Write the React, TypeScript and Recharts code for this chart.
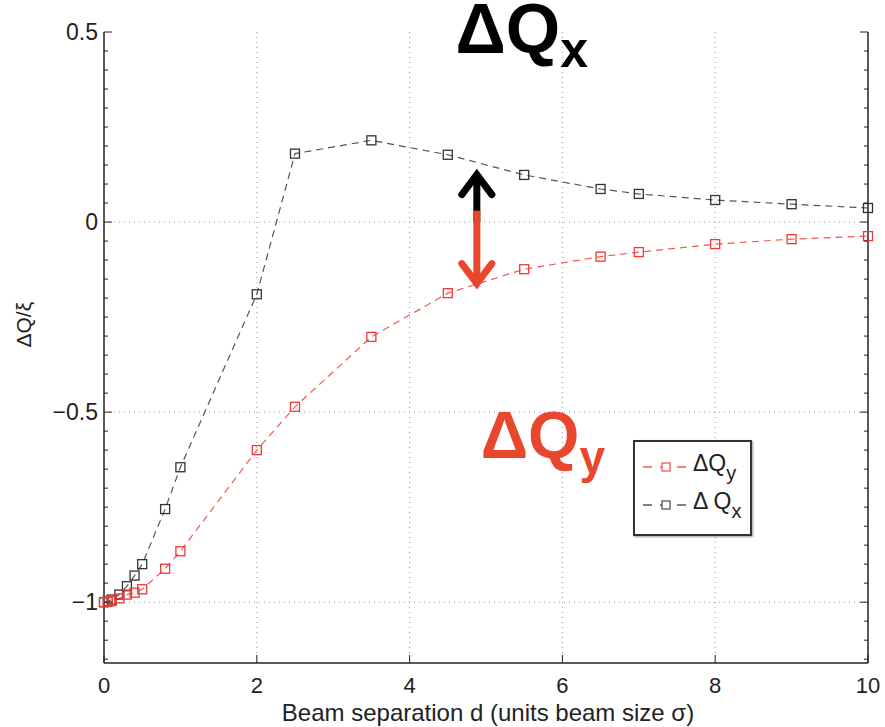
import { LineChart, Line, XAxis, YAxis, ReferenceLine, ReferenceDot } from "recharts";

const separation = [0, 0.05, 0.1, 0.2, 0.3, 0.4, 0.5, 0.8, 1, 2, 2.5, 3.5, 4.5, 5.5, 6.5, 7, 8, 9, 10];
const dQx = [-1, -0.998, -0.993, -0.98, -0.958, -0.93, -0.9, -0.755, -0.645, -0.19, 0.18, 0.215, 0.177, 0.124, 0.087, 0.074, 0.058, 0.047, 0.037];
const dQy = [-1, -0.999, -0.997, -0.99, -0.98, -0.975, -0.966, -0.912, -0.866, -0.6, -0.486, -0.302, -0.187, -0.124, -0.091, -0.079, -0.058, -0.045, -0.037];

const xTicks = [0, 2, 4, 6, 8, 10];
const yMajor = [-1, -0.5, 0, 0.5];
const yMinor = [-1.15, -1.1, -1.05, -1, -0.95, -0.9, -0.85, -0.8, -0.75, -0.7, -0.65, -0.6, -0.55, -0.5,
  -0.45, -0.4, -0.35, -0.3, -0.25, -0.2, -0.15, -0.1, -0.05, 0, 0.05, 0.1, 0.15, 0.2, 0.25, 0.3, 0.35, 0.4, 0.45, 0.5];

const RED = "#ef5a55";
const GREY = "#555555";
const ARROW_RED = "#e8472d";
const FONT = "'Liberation Sans', Arial, Helvetica, sans-serif";

const data = separation.map((d, i) => ({ d, qx: dQx[i], qy: dQy[i] }));

const legendRows = [
  { color: RED, main: "ΔQ", sub: "y" },
  { color: GREY, main: "Δ Q", sub: "x" },
];

function Square(props: any) {
  const { cx, cy, stroke } = props;
  if (cx == null || cy == null) return null;
  return <rect x={cx - 4.5} y={cy - 4.5} width={9} height={9} fill="none" stroke={stroke} strokeWidth={1.3} />;
}

function YTick(props: any) {
  const { x, y, payload, side } = props;
  const major = yMajor.includes(payload.value);
  const len = major ? 8 : 4;
  if (side === "right") {
    return <line x1={x - 8} x2={x - 8 - len} y1={y} y2={y} stroke="#222" strokeWidth={1} />;
  }
  const label = payload.value === 0.5 ? "0.5" : payload.value === -0.5 ? "−0.5" : payload.value === -1 ? "−1" : "0";
  return (
    <g>
      <line x1={x + 8} x2={x + 8 + len} y1={y} y2={y} stroke="#222" strokeWidth={1} />
      {major && (
        <text x={x + 2} y={y} dy={8} textAnchor="end" fontSize={23} fill="#222" fontFamily={FONT}>
          {label}
        </text>
      )}
    </g>
  );
}

function XTick(props: any) {
  const { x, y, payload, side } = props;
  if (side === "top") {
    return <line x1={x} x2={x} y1={y + 8} y2={y + 16} stroke="#222" strokeWidth={1} />;
  }
  return (
    <g>
      <line x1={x} x2={x} y1={y - 8} y2={y - 16} stroke="#222" strokeWidth={1} />
      <text x={x} y={y + 22} textAnchor="middle" fontSize={22} fill="#222" fontFamily={FONT}>
        {payload.value}
      </text>
    </g>
  );
}

function Arrow(color: string) {
  return (props: any) => {
    const { x1, y1, x2, y2 } = props;
    if (x1 == null) return null;
    const dir = y2 < y1 ? -1 : 1;
    return (
      <g>
        <line x1={x1} y1={y1} x2={x2} y2={y2 - dir * 3} stroke={color} strokeWidth={7} />
        <polyline
          points={`${x2 - 15},${y2 - dir * 20} ${x2},${y2} ${x2 + 15},${y2 - dir * 20}`}
          fill="none"
          stroke={color}
          strokeWidth={7}
          strokeLinecap="round"
          strokeLinejoin="miter"
        />
      </g>
    );
  };
}

function BigLabel(color: string, sub: string, size: number, subSize: number, subDy: number) {
  return (props: any) => {
    const { cx, cy } = props;
    if (cx == null) return null;
    return (
      <text x={cx} y={cy} fill={color} fontFamily={FONT} fontWeight="bold" fontSize={size}>
        ΔQ
        <tspan fontSize={subSize} dy={subDy}>{sub}</tspan>
      </text>
    );
  };
}

function LegendBox() {
  return (
    <div
      style={{
        position: "absolute",
        left: 633,
        top: 440,
        width: 115,
        height: 92,
        border: "2.5px solid #333",
        background: "#fff",
        boxShadow: "1px 1px 2px rgba(0,0,0,0.4)",
        fontFamily: FONT,
        color: "#222",
        boxSizing: "content-box",
      }}
    >
      {legendRows.map((r, i) => (
        <div key={i} style={{ display: "flex", alignItems: "center", height: 38, marginTop: i === 0 ? 6 : 0 }}>
          <svg width={54} height={20} style={{ marginLeft: 4 }}>
            <line x1={4} x2={50} y1={10} y2={10} stroke={r.color} strokeWidth={1.5} strokeDasharray="9 8" />
            <rect x={23} y={6} width={8} height={8} fill="#fff" stroke={r.color} strokeWidth={1.3} />
          </svg>
          <span style={{ fontSize: 23, lineHeight: 1 }}>
            {r.main}
            <sub style={{ fontSize: 20, verticalAlign: -9 }}>{r.sub}</sub>
          </span>
        </div>
      ))}
    </div>
  );
}

export default function App() {
  return (
    <div style={{ position: "absolute", left: 0, top: 0, width: 885, height: 727, background: "#fff" }}>
      <LineChart width={885} height={727} data={data} margin={{ top: 32, right: 0, bottom: 24, left: 44 }}>
        <XAxis
          dataKey="d"
          type="number"
          domain={[0, 10]}
          ticks={xTicks}
          xAxisId="b"
          height={40}
          axisLine={{ stroke: "#222", strokeWidth: 1.5 }}
          tickLine={false}
          tick={<XTick side="bottom" />}
          interval={0}
          label={{ value: "Beam separation d (units beam size σ)", position: "insideBottom", offset: -18, fontSize: 24, fill: "#222", fontFamily: FONT, dx: 2 }}
        />
        <XAxis
          dataKey="d"
          type="number"
          domain={[0, 10]}
          ticks={xTicks}
          xAxisId="t"
          orientation="top"
          height={0}
          axisLine={{ stroke: "#222", strokeWidth: 1.5 }}
          tickLine={false}
          tick={<XTick side="top" />}
          interval={0}
        />
        <YAxis
          type="number"
          domain={[-1.16, 0.5]}
          ticks={yMinor}
          yAxisId="l"
          width={60}
          axisLine={{ stroke: "#222", strokeWidth: 1.5 }}
          tickLine={false}
          tick={<YTick side="left" />}
          interval={0}
          allowDataOverflow
          label={{ value: "ΔQ/ξ", angle: -90, position: "insideLeft", offset: -20, fontSize: 21, fill: "#222", fontFamily: FONT }}
        />
        <YAxis
          type="number"
          domain={[-1.16, 0.5]}
          ticks={yMinor}
          yAxisId="r"
          orientation="right"
          width={17}
          axisLine={{ stroke: "#222", strokeWidth: 1.5 }}
          tickLine={false}
          tick={<YTick side="right" />}
          interval={0}
          allowDataOverflow
        />
        {xTicks.slice(1, -1).map((t) => (
          <ReferenceLine key={"gx" + t} x={t} xAxisId="b" yAxisId="l" stroke="#999" strokeDasharray="1 4" />
        ))}
        {yMajor.slice(0, -1).map((t) => (
          <ReferenceLine key={"gy" + t} y={t} xAxisId="b" yAxisId="l" stroke="#999" strokeDasharray="1 4" />
        ))}
        <Line
          xAxisId="b"
          yAxisId="l"
          dataKey="qx"
          name="Δ Qx"
          stroke={GREY}
          strokeWidth={1.2}
          strokeDasharray="7 5"
          dot={<Square stroke="#333" />}
          isAnimationActive={false}
        />
        <Line
          xAxisId="b"
          yAxisId="l"
          dataKey="qy"
          name="ΔQy"
          stroke={RED}
          strokeWidth={1.2}
          strokeDasharray="7 5"
          dot={<Square stroke="#ee3a36" />}
          isAnimationActive={false}
        />
        <ReferenceLine
          xAxisId="b"
          yAxisId="l"
          segment={[{ x: 4.88, y: 0.0 }, { x: 4.88, y: 0.125 }]}
          shape={Arrow("#000")}
        />
        <ReferenceLine
          xAxisId="b"
          yAxisId="l"
          segment={[{ x: 4.88, y: 0.03 }, { x: 4.88, y: -0.162 }]}
          shape={Arrow(ARROW_RED)}
        />
        <ReferenceDot xAxisId="b" yAxisId="l" x={4.6} y={0.445} r={0} ifOverflow="visible" shape={BigLabel("#000", "x", 70, 50, 14)} />
        <ReferenceDot xAxisId="b" yAxisId="l" x={4.93} y={-0.62} r={0} ifOverflow="visible" shape={BigLabel(ARROW_RED, "y", 66, 46, 15)} />
      </LineChart>
      <LegendBox />
    </div>
  );
}
